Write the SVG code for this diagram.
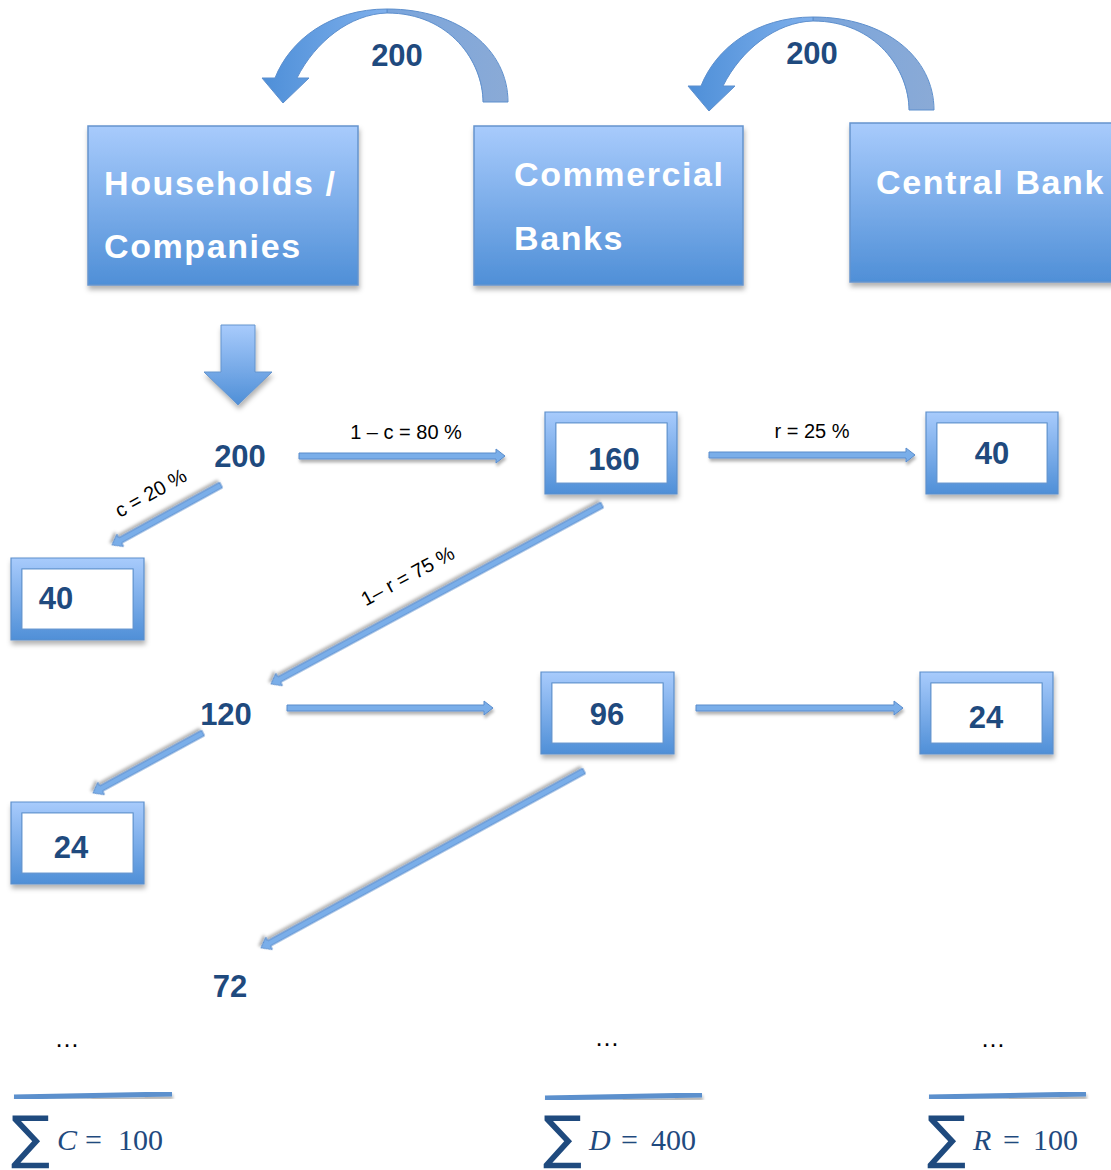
<svg xmlns="http://www.w3.org/2000/svg" width="1111" height="1170" viewBox="0 0 1111 1170">
<defs>
<linearGradient id="gBox" x1="0" y1="0" x2="0" y2="1">
<stop offset="0" stop-color="#a8cbfc"/>
<stop offset="1" stop-color="#4f8fd7"/>
</linearGradient>
<linearGradient id="gArc" x1="0" y1="0" x2="1" y2="0">
<stop offset="0" stop-color="#4e8fd8"/>
<stop offset="1" stop-color="#7fb0ec"/>
</linearGradient>
<linearGradient id="gArcBack" x1="0" y1="0" x2="1" y2="0">
<stop offset="0" stop-color="#7aa5dc"/>
<stop offset="1" stop-color="#8aaad6"/>
</linearGradient>
<linearGradient id="gDown" x1="0" y1="0" x2="0" y2="1">
<stop offset="0" stop-color="#a8cbfc"/>
<stop offset="1" stop-color="#4f8fd7"/>
</linearGradient>
<filter id="sh" x="-20%" y="-20%" width="140%" height="150%">
<feDropShadow dx="1" dy="4" stdDeviation="2.5" flood-color="#000" flood-opacity="0.3"/>
</filter>
<filter id="shs" x="-10%" y="-50%" width="120%" height="200%">
<feDropShadow dx="1" dy="3" stdDeviation="1.5" flood-color="#000" flood-opacity="0.3"/>
</filter>
</defs>
<style>
.bigbox{fill:url(#gBox);stroke:#6594cd;stroke-width:1.5;filter:url(#sh)}
.frame{fill:url(#gBox);stroke:#5d8fcb;stroke-width:1.2;fill-rule:evenodd;filter:url(#sh)}
.inner{fill:#ffffff;stroke:#6a9ad2;stroke-width:1}
.btxt{font-family:"Liberation Sans",Arial,sans-serif;font-weight:bold;font-size:34px;fill:#ffffff;letter-spacing:1.6px}
.num{font-family:"Liberation Sans",Arial,sans-serif;font-weight:bold;font-size:31px;fill:#1f4a7e}
.lbl{font-family:"Liberation Sans",Arial,sans-serif;font-size:20px;fill:#000000}
.arr{fill:#7aaee9;stroke:#5a8ccc;stroke-width:1;filter:url(#shs)}
.arc{stroke:#5d8fcd;stroke-width:1}
.sum{font-family:"Liberation Serif","DejaVu Serif",serif;font-size:30px;fill:#1f4a7e}
.sig{font-family:"DejaVu Sans",sans-serif;font-size:58px;fill:#1f4a7e}
.bar{stroke:#5b90cd;stroke-width:5;filter:url(#shs)}
.dots{font-family:"Liberation Sans",Arial,sans-serif;font-size:25px;fill:#000000}
</style>

<g id="connectors">
<g id="arc1">
<path class="arc" fill="url(#gArcBack)" d="M387,9 C460,9 508,50 508,102 L483,102 C483,62 450,13 387,13 Z"/>
<path class="arc" fill="url(#gArc)" d="M387,9 C330,9 290,40 275,78 L262,78 L283,103 L309,78 L297,78 C315,42 350,14 387,13 Z"/>
</g>
<g id="arc2" transform="translate(426,8)">
<path class="arc" fill="url(#gArcBack)" d="M387,9 C460,9 508,50 508,102 L483,102 C483,62 450,13 387,13 Z"/>
<path class="arc" fill="url(#gArc)" d="M387,9 C330,9 290,40 275,78 L262,78 L283,103 L309,78 L297,78 C315,42 350,14 387,13 Z"/>
</g>
<path id="down" d="M221,325 L255,325 L255,372 L272,372 L238,405 L204,372 L221,372 Z" fill="url(#gDown)" stroke="#6594cd" stroke-width="1" filter="url(#sh)"/>
<path class="arr" d="M299,453 L496,453 L496,449 L505,456 L496,463 L496,459 L299,459 Z"/>
<path class="arr" d="M709,452 L906,452 L906,448 L915,455 L906,462 L906,458 L709,458 Z"/>
<path class="arr" d="M287,705 L484,705 L484,701 L493,708 L484,715 L484,711 L287,711 Z"/>
<path class="arr" d="M696,705 L894,705 L894,701 L903,708 L894,715 L894,711 L696,711 Z"/>
<g transform="translate(221,485) rotate(151.2)"><path class="arr" d="M0,-3 L115,-3 L115,-7 L124.4,0 L115,7 L115,3 L0,3 Z"/></g>
<g transform="translate(602,505) rotate(151.6)"><path class="arr" d="M0,-3 L367,-3 L367,-7 L376.3,0 L367,7 L367,3 L0,3 Z"/></g>
<g transform="translate(203,733) rotate(151.4)"><path class="arr" d="M0,-3 L116,-3 L116,-7 L125.3,0 L116,7 L116,3 L0,3 Z"/></g>
<g transform="translate(584,771) rotate(151.3)"><path class="arr" d="M0,-3 L359,-3 L359,-7 L368.3,0 L359,7 L359,3 L0,3 Z"/></g>
<text class="num" x="397" y="66" text-anchor="middle">200</text>
<text class="num" x="812" y="64" text-anchor="middle">200</text>
<text class="lbl" x="406" y="439" text-anchor="middle">1 – c = 80 %</text>
<text class="lbl" x="812" y="438" text-anchor="middle">r = 25 %</text>
<text class="lbl" transform="translate(154,499) rotate(-29)" text-anchor="middle">c = 20 %</text>
<text class="lbl" transform="translate(411,582) rotate(-28.5)" text-anchor="middle">1– r = 75 %</text>
</g>

<g id="households">
<rect class="bigbox" x="88" y="126" width="270" height="159"/>
<text class="btxt" x="104" y="195">Households /</text>
<text class="btxt" x="104" y="258">Companies</text>
</g>
<g id="commercial-banks">
<rect class="bigbox" x="474" y="126" width="269" height="159"/>
<text class="btxt" x="514" y="186">Commercial</text>
<text class="btxt" x="514" y="250">Banks</text>
</g>
<g id="central-bank">
<rect class="bigbox" x="850" y="123" width="270" height="159"/>
<text class="btxt" x="876" y="194">Central Bank</text>
</g>

<g id="v200"><text class="num" x="240" y="467" text-anchor="middle">200</text></g>
<g id="box160">
<path class="frame" d="M545,412 H677 V494 H545 Z M556,423 V483 H667 V423 Z"/>
<rect class="inner" x="556" y="423" width="111" height="60"/>
<text class="num" x="614" y="470" text-anchor="middle">160</text>
</g>
<g id="box40r">
<path class="frame" d="M926,412 H1058 V494 H926 Z M937,423 V483 H1047 V423 Z"/>
<rect class="inner" x="937" y="423" width="110" height="60"/>
<text class="num" x="992" y="464" text-anchor="middle">40</text>
</g>
<g id="box40l">
<path class="frame" d="M11,558 H144 V640 H11 Z M22,569 V629 H133 V569 Z"/>
<rect class="inner" x="22" y="569" width="111" height="60"/>
<text class="num" x="56" y="609" text-anchor="middle">40</text>
</g>
<g id="v120"><text class="num" x="226" y="725" text-anchor="middle">120</text></g>
<g id="box96">
<path class="frame" d="M541,672 H674 V754 H541 Z M552,683 V743 H663 V683 Z"/>
<rect class="inner" x="552" y="683" width="111" height="60"/>
<text class="num" x="607" y="725" text-anchor="middle">96</text>
</g>
<g id="box24r">
<path class="frame" d="M920,672 H1053 V754 H920 Z M931,683 V743 H1042 V683 Z"/>
<rect class="inner" x="931" y="683" width="111" height="60"/>
<text class="num" x="986" y="728" text-anchor="middle">24</text>
</g>
<g id="box24l">
<path class="frame" d="M11,802 H144 V884 H11 Z M22,813 V873 H133 V813 Z"/>
<rect class="inner" x="22" y="813" width="111" height="60"/>
<text class="num" x="71" y="858" text-anchor="middle">24</text>
</g>
<g id="v72"><text class="num" x="230" y="997" text-anchor="middle">72</text></g>

<g id="sums">
<text class="dots" x="67" y="1047" text-anchor="middle">…</text>
<text class="dots" x="607" y="1046" text-anchor="middle">…</text>
<text class="dots" x="993" y="1047" text-anchor="middle">…</text>
<line class="bar" x1="14" y1="1097" x2="172" y2="1094"/>
<line class="bar" x1="545" y1="1098" x2="702" y2="1095"/>
<line class="bar" x1="929" y1="1097" x2="1086" y2="1094"/>
<text class="sig" x="11" y="1157">∑</text>
<text class="sum" y="1150"><tspan x="57" font-style="italic">C</tspan><tspan x="85">=</tspan><tspan x="118">100</tspan></text>
<text class="sig" x="543" y="1157">∑</text>
<text class="sum" y="1150"><tspan x="589" font-style="italic">D</tspan><tspan x="621">=</tspan><tspan x="651">400</tspan></text>
<text class="sig" x="927" y="1157">∑</text>
<text class="sum" y="1150"><tspan x="973" font-style="italic">R</tspan><tspan x="1003">=</tspan><tspan x="1033">100</tspan></text>
</g>
</svg>
